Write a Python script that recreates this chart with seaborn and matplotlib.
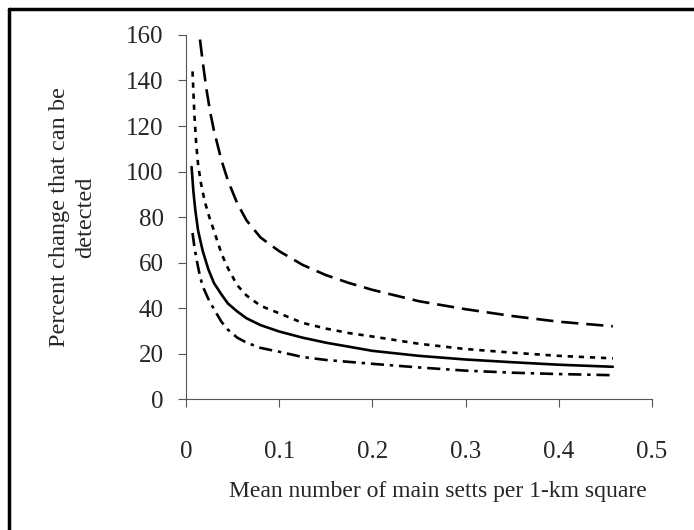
import matplotlib
matplotlib.use("Agg")
import pandas as pd
import matplotlib.pyplot as plt
import seaborn as sns
from matplotlib.lines import Line2D

# values
x_solid = [0.006, 0.008, 0.01, 0.013, 0.018, 0.024, 0.03, 0.038, 0.045, 0.055, 0.065, 0.08,
           0.1, 0.125, 0.15, 0.2, 0.25, 0.3, 0.35, 0.4, 0.458]
y_solid = [102, 91, 83, 74, 65, 57, 51, 46, 42, 38.5, 35.5, 32.5,
           29.7, 27, 24.8, 21.2, 19.0, 17.4, 16.2, 15.1, 14.2]

x_longdash = [0.015, 0.018, 0.022, 0.026, 0.03, 0.038, 0.045, 0.055, 0.065, 0.08,
              0.1, 0.125, 0.15, 0.175, 0.2, 0.25, 0.3, 0.35, 0.4, 0.458]
y_longdash = [158, 148, 136, 126, 118, 105, 96, 86, 78.5, 71,
              65, 59, 54.5, 51, 48, 43, 39.5, 36.5, 34, 32]

x_dotted = [0.007, 0.009, 0.011, 0.013, 0.016, 0.02, 0.025, 0.03, 0.038, 0.045, 0.055, 0.065, 0.08,
            0.1, 0.125, 0.15, 0.175, 0.2, 0.25, 0.3, 0.35, 0.4, 0.458]
y_dotted = [144, 125, 112, 103, 95, 87, 80, 74, 64, 57.5, 50, 45.5, 41,
            37.7, 33.5, 31, 29, 27.5, 24.3, 22, 20.4, 19, 17.9]

x_dashdot = [0.007, 0.009, 0.0115, 0.015, 0.018, 0.024, 0.03, 0.038, 0.045, 0.055, 0.065, 0.08,
             0.1, 0.125, 0.15, 0.2, 0.25, 0.3, 0.35, 0.4, 0.458]
y_dashdot = [73, 67, 61, 54, 49.5, 44, 39.5, 34, 30.5, 27, 24.8, 22.5,
             20.8, 18.5, 17.2, 15.5, 13.9, 12.5, 11.6, 11, 10.5]

x_ticks = [0, 0.1, 0.2, 0.3, 0.4, 0.5]
x_ticklabels = ["0", "0.1", "0.2", "0.3", "0.4", "0.5"]
y_ticks = [0, 20, 40, 60, 80, 100, 120, 140, 160]

sns.set_style("ticks")
plt.rcParams["font.family"] = ["Liberation Serif", "DejaVu Serif"]

fig = plt.figure(figsize=(6.94, 5.30), dpi=100)
ax = fig.add_axes([0.268, 0.247, 0.6715, 0.687])

styles = [
    (x_solid, y_solid, "-"),
    (x_longdash, y_longdash, (0, (6.5, 3))),
    (x_dotted, y_dotted, (0, (2, 2.2))),
    (x_dashdot, y_dashdot, (0, (5, 2.2, 1.3, 2.2))),
]
for xs, ys, ls in styles:
    df = pd.DataFrame({"x": xs, "y": ys})
    sns.lineplot(data=df, x="x", y="y", ax=ax, color="black", linewidth=1.9,
                 linestyle=ls, estimator=None, sort=True)

ax.set_xlim(0, 0.5)
ax.set_ylim(0, 160)
ax.set_xticks(x_ticks)
ax.set_xticklabels(x_ticklabels)
ax.set_yticks(y_ticks)
ax.tick_params(axis="both", labelsize=18, direction="out", length=6, width=0.8, color="#555555")
ax.tick_params(axis="x", pad=24)
ax.tick_params(axis="y", pad=10)
for side in ["top", "right"]:
    ax.spines[side].set_visible(False)
for side in ["left", "bottom"]:
    ax.spines[side].set_color("#555555")
    ax.spines[side].set_linewidth(0.8)

ax.set_xlabel("Mean number of main setts per 1-km square", fontsize=17)
ax.xaxis.set_label_coords(0.541, -0.225)
ax.set_ylabel("Percent change that can be\ndetected", fontsize=17.5, labelpad=22, linespacing=1.3)

# scanned frame: top and left edges
fig.add_artist(Line2D([9 / 694, 1.0], [1 - 9 / 530, 1 - 9 / 530], color="black", linewidth=2.5))
fig.add_artist(Line2D([9 / 694, 9 / 694], [0, 1 - 9 / 530], color="black", linewidth=2.5))

fig.savefig("out.png", dpi=100)
